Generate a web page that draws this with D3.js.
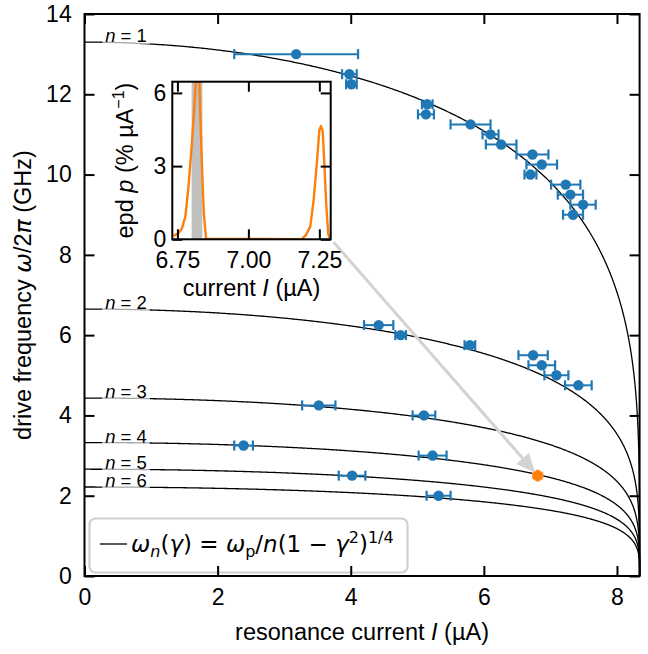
<!DOCTYPE html>
<html>
<head>
<meta charset="utf-8">
<script src="https://cdnjs.cloudflare.com/ajax/libs/d3/7.8.5/d3.min.js"></script>
<style>
	body { margin: 0; background: #fff; }
	svg { display: block; }
</style>
</head>
<body>
<svg id="chart" width="648" height="654"></svg>
<script>
// measured resonances: current (uA), drive frequency (GHz), current error (uA)
var pointI = [3.18, 3.98, 4.01, 5.15, 5.13, 5.80, 6.10, 6.26, 6.73, 6.87, 6.70, 7.23, 7.30, 7.49, 7.34,
	4.42, 4.75, 5.79, 6.74, 6.87, 7.09, 7.42,
	3.52, 5.10, 2.39, 5.23, 4.02, 5.32];
var pointF = [13.0, 12.5, 12.25, 11.75, 11.5, 11.25, 11.0, 10.75, 10.5, 10.25, 10.0, 9.75, 9.5, 9.25, 9.0,
	6.25, 6.0, 5.75, 5.5, 5.25, 5.0, 4.75,
	4.25, 4.0, 3.25, 3.0, 2.5, 2.0];
var pointErr = [0.93, 0.11, 0.08, 0.08, 0.12, 0.30, 0.12, 0.23, 0.24, 0.23, 0.09, 0.22, 0.19, 0.19, 0.15,
	0.22, 0.08, 0.08, 0.22, 0.20, 0.18, 0.20,
	0.25, 0.17, 0.14, 0.21, 0.20, 0.18];

// the resonance whose switching distribution is shown in the inset
var markedI = [6.81];
var markedF = [2.5];

// model curves omega_n = omega_p / n (1 - gamma^2)^(1/4)
var modeN = [1, 2, 3, 4, 5, 6];
var plasmaFreq = 13.3;      // GHz
var criticalCurrent = 8.34; // uA

// inset: escape probability density
var epdI = [6.736, 6.754, 6.766, 6.778, 6.789, 6.801, 6.811, 6.819, 6.826, 6.831, 6.837, 6.843, 6.851,
	7.188, 7.203, 7.218, 7.230, 7.242, 7.250, 7.256, 7.262, 7.267, 7.274, 7.281, 7.287];
var epdP = [0.14, 0.25, 0.45, 0.93, 2.16, 3.93, 5.7, 7.4, 7.0, 5.0, 2.84, 1.07, 0.02,
	0.0, 0.18, 0.52, 1.61, 3.25, 4.48, 4.64, 4.41, 3.25, 1.48, 0.25, 0.0];
var bandI = [6.800, 6.838];

var mainXTicks = [0, 2, 4, 6, 8];
var mainYTicks = [0, 2, 4, 6, 8, 10, 12, 14];
var insetXTicks = [6.75, 7.00, 7.25];
var insetYTicks = [0, 3, 6];

var FONT = "'Liberation Sans', Arial, sans-serif";
var MATH = "'DejaVu Sans', sans-serif";
var BLUE = "#1f77b4";
var ORANGE = "#ff7f0e";

var svg = d3.select("#chart");

var main = {left: 84.5, right: 639.6, top: 14, bottom: 576};
var inset = {left: 172.3, right: 330.7, top: 81.7, bottom: 239.3};

var x = d3.scaleLinear().domain([0, criticalCurrent]).range([main.left, main.right]);
var y = d3.scaleLinear().domain([0, 14]).range([main.bottom, main.top]);

var ix = d3.scaleLinear().domain([6.732, 7.29]).range([inset.left, inset.right]);
var iy = d3.scaleLinear().domain([0, 6.46]).range([inset.bottom, inset.top]);

// inward ticks on all four sides, labels only bottom / left
var drawAxes = function (g, sx, sy, box, xticks, yticks, fmtX, padX, padY) {
	var tick = 10;
	var styleAxis = function (sel) {
		sel.select(".domain").remove();
		sel.selectAll(".tick line").attr("stroke", "#000").attr("stroke-width", 2);
		sel.selectAll(".tick text").attr("font-family", FONT).attr("font-size", "23px").attr("fill", "#000");
	};
	g.append("g").attr("transform", "translate(0," + box.bottom + ")")
		.call(d3.axisBottom(sx).tickValues(xticks).tickFormat(fmtX).tickSize(-tick).tickPadding(padX))
		.call(styleAxis);
	g.append("g").attr("transform", "translate(0," + box.top + ")")
		.call(d3.axisTop(sx).tickValues(xticks).tickFormat("").tickSize(-tick))
		.call(styleAxis);
	g.append("g").attr("transform", "translate(" + box.left + ",0)")
		.call(d3.axisLeft(sy).tickValues(yticks).tickFormat(d3.format("d")).tickSize(-tick).tickPadding(padY))
		.call(styleAxis);
	g.append("g").attr("transform", "translate(" + box.right + ",0)")
		.call(d3.axisRight(sy).tickValues(yticks).tickFormat("").tickSize(-tick))
		.call(styleAxis);
	g.append("rect")
		.attr("x", box.left).attr("y", box.top)
		.attr("width", box.right - box.left).attr("height", box.bottom - box.top)
		.attr("fill", "none").attr("stroke", "#000").attr("stroke-width", 2);
};

// model curves
var gCurves = svg.append("g");
var line = d3.line().x(function (d) { return x(d[0]); }).y(function (d) { return y(d[1]); });
modeN.forEach(function (n) {
	var pts = d3.range(0, 601).map(function (i) {
		var g = Math.sin((i / 600) * Math.PI / 2);
		var f = i === 600 ? 0 : plasmaFreq / n * Math.pow(1 - g * g, 0.25);
		return [g * criticalCurrent, f];
	});
	gCurves.append("path").datum(pts)
		.attr("d", line).attr("fill", "none").attr("stroke", "#000").attr("stroke-width", 1.3);
});

// n = ... labels with a translucent white box over the curve
var gLabels = svg.append("g");
modeN.forEach(function (n) {
	var bx = x(0.31), by = y(plasmaFreq / n);
	var t = gLabels.append("text")
		.attr("x", bx).attr("y", by)
		.attr("font-family", FONT).attr("font-size", "18.5px");
	t.append("tspan").attr("font-style", "italic").text("n");
	t.append("tspan").text(" = " + n);
	var bb = t.node().getBBox();
	gLabels.insert("rect", "text")
		.attr("x", bb.x - 3).attr("y", by - 12)
		.attr("width", bb.width + 6).attr("height", 14)
		.attr("fill", "#fff").attr("fill-opacity", 0.65);
});

// legend
var gLegend = svg.append("g");
gLegend.append("rect")
	.attr("x", 89.5).attr("y", 518.5).attr("width", 318).attr("height", 54).attr("rx", 6)
	.attr("fill", "#fff").attr("stroke", "#cfcfcf").attr("stroke-width", 2.2);
gLegend.append("line")
	.attr("x1", 100).attr("x2", 127).attr("y1", 544).attr("y2", 544)
	.attr("stroke", "#000").attr("stroke-width", 1.3);
var lt = gLegend.append("text").attr("x", 131).attr("y", 552)
	.attr("font-family", MATH).attr("font-size", "23px");
var legendParts = [
	["ω", "italic", 0], ["n", "italic", 1], ["(", null, 0], ["γ", "italic", 0], [") = ", null, 0],
	["ω", "italic", 0], ["p", null, 1], ["/", null, 0], ["n", "italic", 0], ["(1 − ", null, 0],
	["γ", "italic", 0], ["2", null, -1], [")", null, 0], ["1/4", null, -1]
];
var prevShift = 0;
legendParts.forEach(function (p) {
	var shift = p[2] === 1 ? 5 : (p[2] === -1 ? -9 : 0);
	var ts = lt.append("tspan").attr("dy", shift - prevShift).text(p[0]);
	if (p[1]) { ts.attr("font-style", p[1]); }
	if (p[2] !== 0) { ts.attr("font-size", "16px"); }
	prevShift = shift;
});

// error bars and points
var gPoints = svg.append("g");
pointI.forEach(function (v, i) {
	var cx = x(v), cy = y(pointF[i]);
	var x0 = x(v - pointErr[i]), x1 = x(v + pointErr[i]);
	gPoints.append("line").attr("x1", x0).attr("x2", x1).attr("y1", cy).attr("y2", cy)
		.attr("stroke", BLUE).attr("stroke-width", 2);
	[x0, x1].forEach(function (cxp) {
		gPoints.append("line").attr("x1", cxp).attr("x2", cxp).attr("y1", cy - 5).attr("y2", cy + 5)
			.attr("stroke", BLUE).attr("stroke-width", 2.2);
	});
	gPoints.append("circle").attr("cx", cx).attr("cy", cy).attr("r", 5.2).attr("fill", BLUE);
});

// arrow from the inset to the marked resonance
var ax0 = inset.right + 3, ay0 = inset.bottom + 3;
var mx = x(markedI[0]), my = y(markedF[0]);
var dx = mx - ax0, dy = my - ay0, len = Math.sqrt(dx * dx + dy * dy);
var ux = dx / len, uy = dy / len;
var tipX = mx - ux * 4, tipY = my - uy * 4;
var headLen = 19, headW = 8.5;
var baseX = tipX - ux * headLen, baseY = tipY - uy * headLen;
svg.append("line")
	.attr("x1", ax0).attr("y1", ay0).attr("x2", baseX).attr("y2", baseY)
	.attr("stroke", "#d3d3d3").attr("stroke-width", 3);
svg.append("path")
	.attr("d", "M" + tipX + "," + tipY +
		"L" + (baseX - uy * headW) + "," + (baseY + ux * headW) +
		"L" + (baseX + uy * headW) + "," + (baseY - ux * headW) + "Z")
	.attr("fill", "#d3d3d3");

// marked resonance: hexagon
var hexR = 6;
var hex = d3.range(6).map(function (k) {
	var a = Math.PI / 2 + k * Math.PI / 3;
	return [mx + hexR * Math.cos(a), my - hexR * Math.sin(a)];
});
svg.append("path").attr("d", "M" + hex.join("L") + "Z")
	.attr("fill", ORANGE).attr("stroke", "#ffa04d").attr("stroke-width", 1);

// main axes
var gMain = svg.append("g");
drawAxes(gMain, x, y, main, mainXTicks, mainYTicks, d3.format("d"), 12.7, 12.8);

gMain.append("text")
	.attr("x", (main.left + main.right) / 2).attr("y", 640)
	.attr("text-anchor", "middle").attr("font-family", FONT).attr("font-size", "23.5px")
	.call(function (t) {
		t.append("tspan").text("resonance current ");
		t.append("tspan").attr("font-style", "italic").text("I");
		t.append("tspan").text(" (µA)");
	});
gMain.append("text")
	.attr("transform", "translate(31," + ((main.top + main.bottom) / 2) + ") rotate(-90)")
	.attr("text-anchor", "middle").attr("font-family", FONT).attr("font-size", "23.5px")
	.call(function (t) {
		t.append("tspan").text("drive frequency ");
		t.append("tspan").attr("font-style", "italic").attr("font-family", MATH).text("ω");
		t.append("tspan").text("/2");
		t.append("tspan").attr("font-style", "italic").attr("font-family", MATH).text("π");
		t.append("tspan").text(" (GHz)");
	});

// inset
var gInset = svg.append("g");
gInset.append("rect")
	.attr("x", inset.left).attr("y", inset.top)
	.attr("width", inset.right - inset.left).attr("height", inset.bottom - inset.top)
	.attr("fill", "#fff");
svg.append("clipPath").attr("id", "insetclip").append("rect")
	.attr("x", inset.left).attr("y", inset.top)
	.attr("width", inset.right - inset.left).attr("height", inset.bottom - inset.top);
var gInsetData = gInset.append("g").attr("clip-path", "url(#insetclip)");
gInsetData.append("rect")
	.attr("x", ix(bandI[0])).attr("width", ix(bandI[1]) - ix(bandI[0]))
	.attr("y", inset.top).attr("height", inset.bottom - inset.top)
	.attr("fill", "#c0c0c0");
gInsetData.append("path")
	.datum(epdI.map(function (v, i) { return [v, epdP[i]]; }))
	.attr("d", d3.line().x(function (d) { return ix(d[0]); }).y(function (d) { return iy(d[1]); }))
	.attr("fill", "none").attr("stroke", ORANGE).attr("stroke-width", 2.4).attr("stroke-linejoin", "round");

drawAxes(gInset, ix, iy, inset, insetXTicks, insetYTicks, d3.format(".2f"), 12.4, 6);

gInset.append("text")
	.attr("x", (inset.left + inset.right) / 2).attr("y", 296)
	.attr("text-anchor", "middle").attr("font-family", FONT).attr("font-size", "23.5px")
	.call(function (t) {
		t.append("tspan").text("current ");
		t.append("tspan").attr("font-style", "italic").text("I");
		t.append("tspan").text(" (µA)");
	});
gInset.append("text")
	.attr("transform", "translate(133," + ((inset.top + inset.bottom) / 2) + ") rotate(-90)")
	.attr("text-anchor", "middle").attr("font-family", FONT).attr("font-size", "23.5px")
	.call(function (t) {
		t.append("tspan").text("epd ");
		t.append("tspan").attr("font-style", "italic").text("p");
		t.append("tspan").text(" (% µA");
		t.append("tspan").attr("dy", -9).attr("font-size", "16px").text("−1");
		t.append("tspan").attr("dy", 9).text(")");
	});
</script>
</body>
</html>
